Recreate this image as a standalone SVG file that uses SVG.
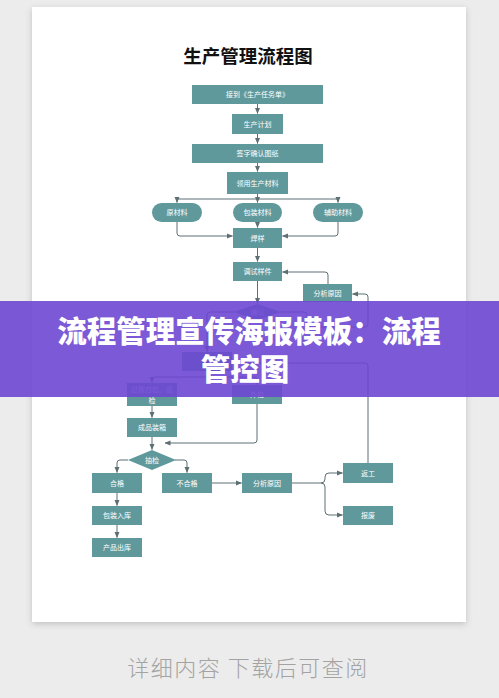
<svg xmlns="http://www.w3.org/2000/svg" width="499" height="698" viewBox="0 0 499 698">
<defs>
<filter id="sh" x="-10%" y="-10%" width="120%" height="120%">
<feDropShadow dx="0" dy="2" stdDeviation="3" flood-color="#000" flood-opacity="0.18"/>
</filter>
<marker id="ar" markerUnits="userSpaceOnUse" markerWidth="6" markerHeight="6" viewBox="0 0 6 6" refX="5.5" refY="3" orient="auto">
<path d="M0,0.5 L6,3 L0,5.5 Z" fill="#5d6f72"/>
</marker>
<style>
.n{fill:#5f999c}
.t{font-family:"Noto Sans CJK SC","Noto Sans",sans-serif;font-size:7px;fill:#ffffff;text-anchor:middle}
.c path{fill:none;stroke:#5d6f72;stroke-width:1;marker-end:url(#ar)}
</style>
</defs>
<rect x="0" y="0" width="499" height="698" fill="#ececec"/>
<rect x="32" y="7" width="434" height="615" fill="#ffffff" filter="url(#sh)"/>
<text x="248" y="63" font-family="'Noto Sans CJK SC',sans-serif" font-size="18.5" font-weight="700" fill="#111" text-anchor="middle">生产管理流程图</text>

<g class="c" id="connectors">
<path d="M257.5,104 V113.5"/>
<path d="M257.5,134 V143.5"/>
<path d="M257.5,163 V171.5"/>
<path d="M257.5,194 V202.5"/>
<path d="M257.5,199 H177 V202.5"/>
<path d="M257.5,199 H338 V202.5"/>
<path d="M177,222 V233 Q177,236 180,236 H232.5"/>
<path d="M338,222 V233 Q338,236 335,236 H282.5"/>
<path d="M257.5,222 V227.5"/>
<path d="M257.5,248 V261.5"/>
<path d="M257.5,281 V303.5"/>
<path d="M328,284 V275 Q328,272 325,272 H282.5"/>
<path d="M280,312 H304 Q307,312 307,315 V324 Q307,327 310,327 H365 Q368,327 368,324 V297 Q368,294 365,294 H352.5"/>
<path d="M234,312 H210 Q207,312 207,315 V351.5"/>
<path d="M207,371 V377 H155 Q152,377 152,380 V382.5"/>
<path d="M207,377 H254 Q257,377 257,380 V384.5"/>
<path d="M368,463 V366 Q368,363 365,363 H232.5"/>
<path d="M152,406 V417.5"/>
<path d="M152,437 V449.5"/>
<path d="M257,404 V440 Q257,443 254,443 H165"/>
<path d="M128,460 H120 Q117,460 117,463 V472.5"/>
<path d="M175,460 H184 Q187,460 187,463 V472.5"/>
<path d="M212,483 H241.5"/>
<path d="M292,483 H321 Q325,483 325,479 V477 Q325,473 329,473 H342.5"/>
<path d="M321,483 Q325,483 325,487 V511 Q325,515 329,515 H342.5"/>
<path d="M117,493 V505.5"/>
<path d="M117,525 V537.5"/>
</g>

<g id="n1"><rect class="n" x="192" y="85" width="131" height="19"/><text class="t" x="257.5" y="97">接到《生产任务单》</text></g>
<g id="n2"><rect class="n" x="232" y="114" width="51" height="20"/><text class="t" x="257.5" y="126.5">生产计划</text></g>
<g id="n3"><rect class="n" x="192" y="144" width="131" height="19"/><text class="t" x="257.5" y="156">签字确认图纸</text></g>
<g id="n4"><rect class="n" x="227" y="172" width="61" height="22"/><text class="t" x="257.5" y="185.5">领用生产材料</text></g>
<g id="n5"><rect class="n" x="152" y="203" width="50" height="19" rx="9.5"/><text class="t" x="177" y="215">原材料</text></g>
<g id="n6"><rect class="n" x="233" y="203" width="49" height="19" rx="9.5"/><text class="t" x="257.5" y="215">包装材料</text></g>
<g id="n7"><rect class="n" x="313" y="203" width="50" height="19" rx="9.5"/><text class="t" x="338" y="215">辅助材料</text></g>
<g id="n8"><rect class="n" x="233" y="228" width="49" height="20"/><text class="t" x="257.5" y="240.5">焊样</text></g>
<g id="n9"><rect class="n" x="233" y="262" width="49" height="19"/><text class="t" x="257.5" y="274">调试样件</text></g>
<g id="n10"><rect class="n" x="303" y="284" width="49" height="18"/><text class="t" x="327.5" y="295.5">分析原因</text></g>
<g id="n11"><path class="n" d="M233.5,312 L257.5,304 L281,312 L257.5,320 Z"/><text class="t" x="257.5" y="314.5">确认</text></g>
<g id="n12"><rect class="n" x="182" y="352" width="50" height="19"/></g>
<g id="n13"><rect class="n" x="127" y="383" width="50" height="23"/><text class="t" x="152" y="391.5">过程自检、巡</text><text class="t" x="152" y="402.5">检</text></g>
<g id="n14"><rect class="n" x="232" y="385" width="50" height="19"/><text class="t" x="257" y="397">外检</text></g>
<g id="n15"><rect class="n" x="127" y="418" width="50" height="19"/><text class="t" x="152" y="430">成品装箱</text></g>
<g id="n16"><path class="n" d="M128,460 L152,450 L176,460 L152,470 Z"/><text class="t" x="152" y="462.5">抽检</text></g>
<g id="n17"><rect class="n" x="92" y="473" width="50" height="20"/><text class="t" x="117" y="485.5">合格</text></g>
<g id="n18"><rect class="n" x="162" y="473" width="50" height="20"/><text class="t" x="187" y="485.5">不合格</text></g>
<g id="n19"><rect class="n" x="242" y="473" width="50" height="20"/><text class="t" x="267" y="485.5">分析原因</text></g>
<g id="n20"><rect class="n" x="343" y="463" width="50" height="20"/><text class="t" x="368" y="475.5">返工</text></g>
<g id="n21"><rect class="n" x="343" y="506" width="50" height="19"/><text class="t" x="368" y="518">报废</text></g>
<g id="n22"><rect class="n" x="92" y="506" width="50" height="19"/><text class="t" x="117" y="518">包装入库</text></g>
<g id="n23"><rect class="n" x="92" y="538" width="50" height="19"/><text class="t" x="117" y="550">产品出库</text></g>

<g id="banner">
<rect x="0" y="301" width="499" height="96" fill="#6e47d2" fill-opacity="0.9"/>
<text x="249" y="342" font-family="'Noto Sans CJK SC',sans-serif" font-size="29.5" font-weight="900" fill="#ffffff" text-anchor="middle">流程管理宣传海报模板：流程</text>
<text x="245" y="380" font-family="'Noto Sans CJK SC',sans-serif" font-size="29.5" font-weight="900" fill="#ffffff" text-anchor="middle">管控图</text>
</g>
<text x="248" y="676" font-family="'Noto Sans CJK SC',sans-serif" font-size="22" font-weight="300" letter-spacing="1.5" fill="#a3a3a3" text-anchor="middle">详细内容 下载后可查阅</text>
</svg>
